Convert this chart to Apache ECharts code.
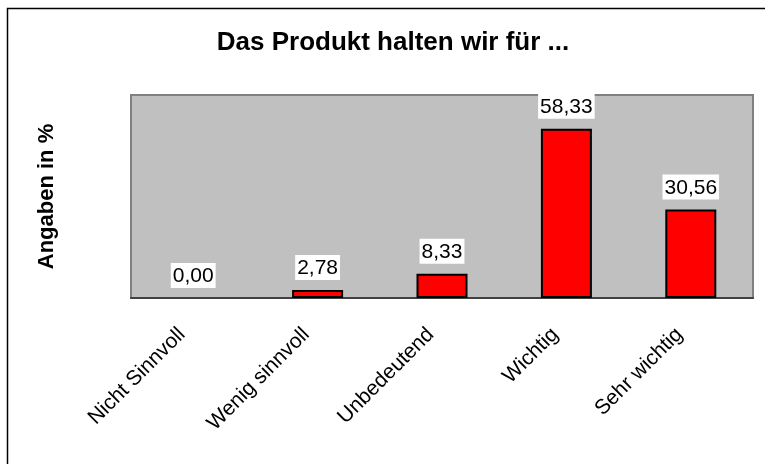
<!DOCTYPE html>
<html>
<head>
<meta charset="utf-8">
<script src="https://cdn.jsdelivr.net/npm/echarts@6/dist/echarts.min.js"></script>
<style>
  html, body { margin: 0; padding: 0; background: #fff; }
  #chart { width: 765px; height: 464px; }
</style>
</head>
<body>
<div id="chart"></div>
<script>
const categories = ['Nicht Sinnvoll', 'Wenig sinnvoll', 'Unbedeutend', 'Wichtig', 'Sehr wichtig']
const values = [0.00, 2.78, 8.33, 58.33, 30.56]

const font = '"Liberation Sans", Arial, sans-serif'

const chart = echarts.init(document.getElementById('chart'), null, { renderer: 'canvas' })

// a zero bar has no visible outline in the original
const barData = values.map(v => (v === 0 ? { value: v, itemStyle: { borderWidth: 0 } } : v))

chart.setOption({
  animation: false,
  backgroundColor: '#fff',
  graphic: [
    {
      type: 'rect',
      shape: { x: 7.5, y: 8.5, width: 800, height: 500 },
      style: { fill: 'none', stroke: '#000', lineWidth: 1.5 },
      z: -1,
    },
  ],
  title: {
    text: 'Das Produkt halten wir für ...',
    left: 388,
    top: 25,
    textAlign: 'center',
    textStyle: { fontFamily: font, fontSize: 26, fontWeight: 'bold', color: '#000' },
  },
  grid: {
    left: 131, top: 95, right: 12, bottom: 166,
    show: true,
    backgroundColor: '#c0c0c0',
    borderColor: '#808080',
    borderWidth: 2,
  },
  xAxis: {
    type: 'category',
    data: categories,
    axisLine: { lineStyle: { color: '#404040', width: 2 } },
    axisTick: { length: 6, lineStyle: { color: '#404040', width: 1 } },
    axisLabel: {
      interval: 0,
      rotate: 45,
      margin: 22,
      padding: [0, 16, 0, 0],
      fontFamily: font,
      fontSize: 21,
      color: '#000',
    },
  },
  yAxis: {
    type: 'value',
    min: 0,
    max: 70,
    name: 'Angaben in %',
    nameLocation: 'middle',
    nameGap: 73,
    nameTextStyle: { fontFamily: font, fontSize: 22, fontWeight: 'bold', color: '#000' },
    axisLine: { show: false },
    axisTick: { show: false },
    axisLabel: { show: false },
    splitLine: { show: false },
  },
  series: [
    {
      type: 'bar',
      data: barData,
      barWidth: '41%',
      itemStyle: { color: '#ff0000', borderColor: '#000', borderWidth: 2 },
      label: {
        show: true,
        position: 'top',
        distance: 10,
        backgroundColor: '#fff',
        padding: [3, 2, 1, 2],
        fontFamily: font,
        fontSize: 21,
        color: '#000',
        formatter: p => p.value.toFixed(2).replace('.', ','),
      },
    },
  ],
})
</script>
</body>
</html>
